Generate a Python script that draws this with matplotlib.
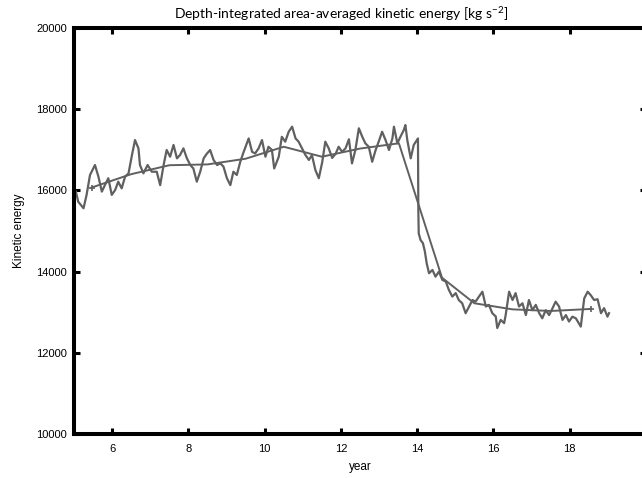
import matplotlib
matplotlib.use("Agg")
import matplotlib.pyplot as plt

# noisy series (year, kinetic energy)
year = [5.05, 5.11, 5.25, 5.33, 5.42, 5.55, 5.64, 5.73, 5.81, 5.90, 5.99, 6.08, 6.16, 6.25, 6.34, 6.43,
        6.52, 6.60, 6.69, 6.73, 6.82, 6.93, 7.04, 7.17, 7.26, 7.35, 7.43, 7.52, 7.61, 7.70, 7.78, 7.87,
        7.96, 8.05, 8.13, 8.22, 8.31, 8.40, 8.48, 8.57, 8.66, 8.75, 8.84, 8.92, 9.01, 9.10, 9.18, 9.27,
        9.36, 9.45, 9.58, 9.67, 9.75, 9.84, 9.93, 10.02, 10.10, 10.19, 10.25, 10.37, 10.45, 10.54, 10.63,
        10.72, 10.81, 10.89, 10.98, 11.07, 11.16, 11.24, 11.33, 11.42, 11.51, 11.59, 11.68, 11.77, 11.86,
        11.94, 12.03, 12.12, 12.21, 12.29, 12.38, 12.47, 12.56, 12.64, 12.73, 12.82, 12.91, 12.99, 13.08,
        13.17, 13.26, 13.35, 13.39, 13.48, 13.56, 13.65, 13.69, 13.74, 13.83, 13.91, 14.02, 14.03, 14.04,
        14.09, 14.15, 14.20, 14.25, 14.31, 14.40, 14.48, 14.57, 14.66, 14.75, 14.83, 14.92, 15.01, 15.09,
        15.18, 15.27, 15.36, 15.45, 15.53, 15.62, 15.71, 15.80, 15.88, 15.97, 16.06, 16.10, 16.19, 16.28,
        16.32, 16.41, 16.50, 16.58, 16.67, 16.76, 16.85, 16.93, 17.02, 17.11, 17.20, 17.28, 17.37, 17.46,
        17.55, 17.63, 17.72, 17.81, 17.90, 17.98, 18.07, 18.16, 18.29, 18.38, 18.47, 18.55, 18.64, 18.73,
        18.82, 18.90, 18.99, 19.03]
energy = [15968, 15722, 15560, 15890, 16380, 16625, 16340, 15970, 16130, 16300, 15890, 16010, 16215, 16050,
          16340, 16420, 16870, 17240, 17035, 16625, 16420, 16625, 16460, 16460, 16130, 16625, 16995, 16830,
          17120, 16790, 16870, 17035, 16790, 16625, 16540, 16215, 16460, 16790, 16900, 16995, 16750, 16625,
          16665, 16585, 16300, 16130, 16460, 16380, 16705, 16950, 17280, 16950, 16910, 17035, 17240, 16830,
          17075, 16995, 16540, 16830, 17320, 17200, 17445, 17570, 17280, 17200, 17035, 16870, 16750, 16870,
          16500, 16300, 16700, 17200, 17035, 16800, 16900, 17075, 16950, 17035, 17260, 16665, 17000, 17530,
          17320, 17160, 17075, 16705, 16995, 17200, 17445, 17240, 16995, 17280, 17570, 17160, 17320, 17490,
          17610, 17240, 16790, 17120, 17280, 15500, 14940, 14775, 14700, 14500, 14200, 13960, 14040, 13875,
          14000, 13795, 13755, 13550, 13385, 13470, 13300, 13220, 12975, 13140, 13300, 13260, 13385, 13505,
          13140, 13180, 12975, 12895, 12610, 12810, 12730, 12930, 13505, 13300, 13470, 13140, 13220, 12930,
          13300, 13050, 13180, 12975, 12850, 13050, 12930, 13100, 13260, 13140, 12810, 12930, 12770, 12890,
          12850, 12645, 13340, 13505, 13420, 13300, 13320, 12975, 13100, 12890, 12975]

# smoothed (annual mean) series
year_mean = [5.46, 6.5, 7.5, 8.5, 9.5, 10.5, 11.5, 12.5, 13.52, 14.65, 15.5, 16.5, 17.5, 18.55]
energy_mean = [16070, 16400, 16620, 16640, 16780, 17075, 16830, 17030, 17160, 13850, 13220, 13070, 13030, 13080]

xticks = [6, 8, 10, 12, 14, 16, 18]
yticks = [10000, 12000, 14000, 16000, 18000, 20000]

plt.rcParams['mathtext.fontset'] = 'custom'
plt.rcParams['mathtext.rm'] = 'Lato'

fig = plt.figure(figsize=(6.42, 4.78), dpi=100)
ax = fig.add_axes([74/642, 44/478, (646-74)/642, (434-28)/478])

col = '#606060'
ax.plot(year, energy, color=col, lw=1.6)
ax.plot(year_mean, energy_mean, color=col, lw=1.4, marker='+', ms=5, mew=1.2,
        markevery=[0, len(year_mean) - 1])

ax.set_xlim(5, 20)
ax.set_ylim(10000, 20000)
ax.set_xticks(xticks)
ax.set_yticks(yticks)

for s in ax.spines.values():
    s.set_linewidth(2.9)
ax.tick_params(direction='in', length=4, width=2.2, top=True, right=True,
               labelsize=8, pad=5)
ax.tick_params(axis='x', pad=7)
for lab in ax.get_xticklabels() + ax.get_yticklabels():
    lab.set_fontfamily('Liberation Sans')

ax.set_xlabel('year', fontsize=8.5, fontfamily='Liberation Sans', labelpad=5)
ax.set_ylabel('Kinetic energy', fontsize=8.5, fontfamily='Liberation Sans', labelpad=8)

fig.text(341/642, 1 - 14/478, 'Depth-integrated area-averaged kinetic energy [kg s$^{\\mathregular{-2}}$]',
         ha='center', va='center', fontsize=10, fontfamily='Lato')

fig.savefig('out.png', dpi=100)
